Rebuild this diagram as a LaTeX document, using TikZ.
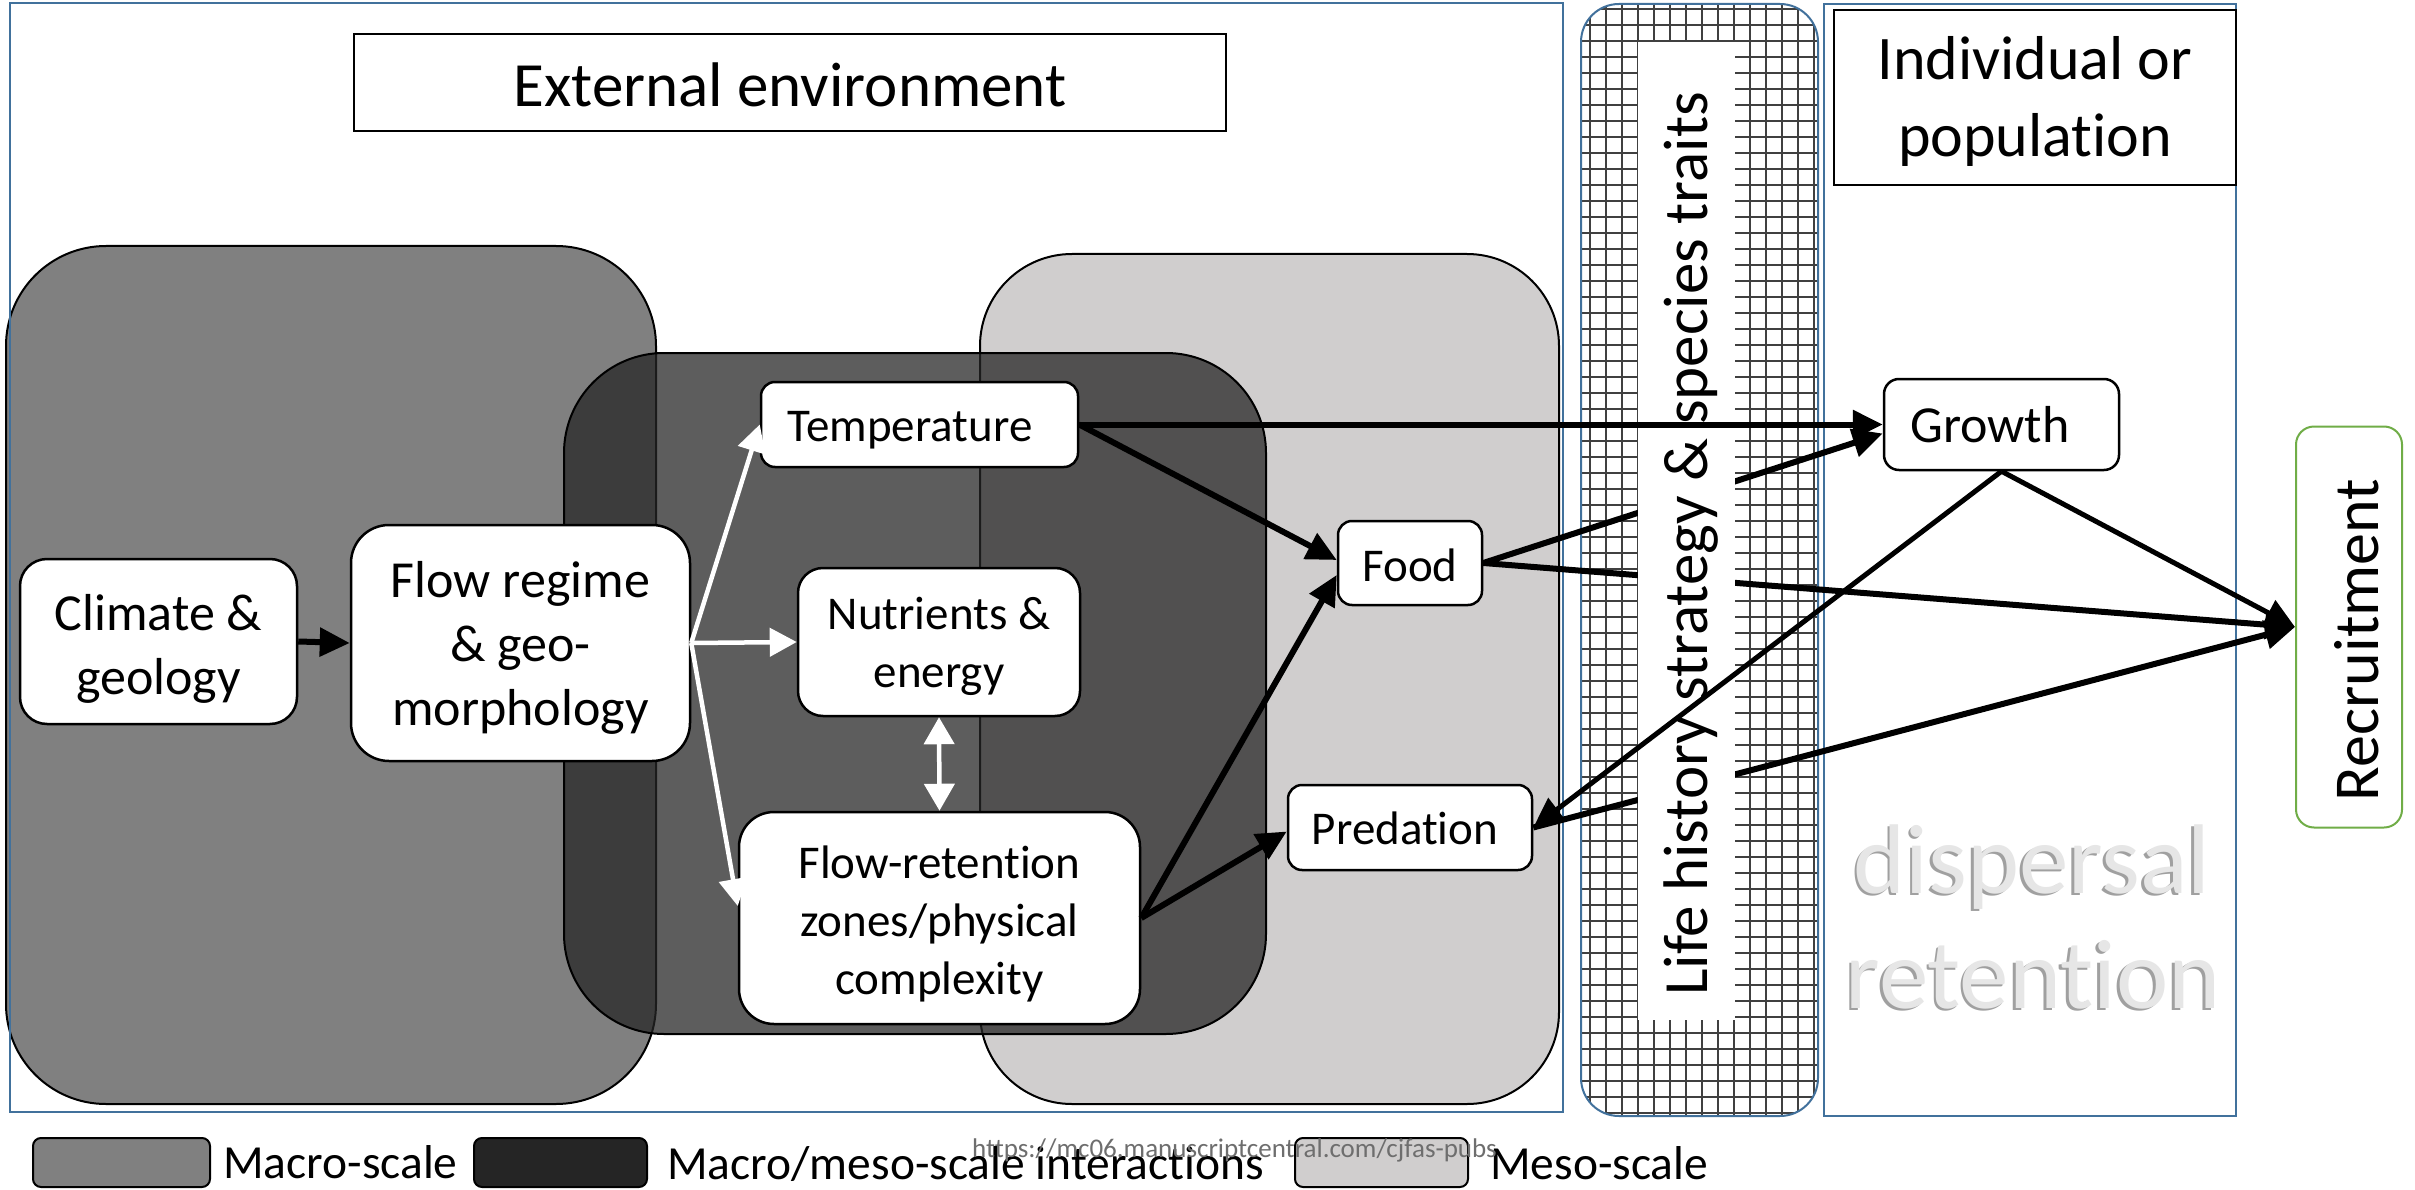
\documentclass[tikz,border=0pt]{standalone}
\usepackage{fontspec}
\setmainfont{Carlito}[Ligatures=NoCommon]
\usetikzlibrary{arrows.meta,calc}
\definecolor{macroc}{RGB}{128,128,128}
\definecolor{mesoc}{RGB}{208,206,206}
\definecolor{mmc}{RGB}{37,37,37}
\definecolor{bordc}{RGB}{65,113,156}
\definecolor{greenc}{RGB}{112,173,71}
\definecolor{gridc}{RGB}{64,64,64}
\definecolor{urlc}{RGB}{110,110,110}
\definecolor{embc}{RGB}{230,230,230}
\definecolor{embs}{RGB}{160,160,160}
\begin{document}
\begin{tikzpicture}[x=1pt,y=-1pt,
  nbox/.style={draw=black, line width=2.5pt, fill=white, inner sep=0pt},
  ntext/.style={align=center, inner sep=0pt},
  fsa/.style={font=\fontsize{47pt}{58pt}\selectfont},
  fsb/.style={font=\fontsize{52pt}{64pt}\selectfont},
  bigbox/.style={draw=black, line width=2pt},
  barr/.style={line width=6pt, -{Triangle[length=30pt,width=28pt]}},
  warr/.style={draw=white, line width=4.5pt, -{Triangle[length=27pt,width=28pt]}},
  wdbl/.style={draw=white, line width=4.5pt, {Triangle[length=27pt,width=30pt]}-{Triangle[length=27pt,width=30pt]}},
  legtext/.style={anchor=base west, inner sep=0pt, font=\fontsize{47.5pt}{57pt}\selectfont},
  swatch/.style={draw=black, line width=2pt, rounded corners=8pt},
  embos/.style={inner sep=0pt, anchor=base, font=\fontsize{99pt}{110pt}\selectfont},
]
\useasboundingbox (0,0) rectangle (2415,1190);
\fill[white] (0,0) rectangle (2415,1190);

% scale regions
\draw[bigbox, fill=macroc, rounded corners=100pt] (6,246) rectangle (656,1104);
\draw[bigbox, fill=mesoc, rounded corners=92pt] (980,254) rectangle (1559,1104);
\draw[bigbox, fill=mmc, fill opacity=0.74, rounded corners=100pt] (564,353) rectangle (1266,1034);

% external environment frame
\draw[bordc, line width=2pt] (10,3) rectangle (1563,1112);
\node[draw=black, line width=1.5pt, fill=white, inner sep=0pt, minimum width=872pt, minimum height=97pt] (ext) at (790,82.5) {};
\node[ntext, font=\fontsize{63pt}{76pt}\selectfont] (extt) at (790,85) {External environment};

% life-history grid box
\begin{scope}
  \clip[rounded corners=38pt] (1581,4) rectangle (1818,1116);
  \fill[white] (1581,4) rectangle (1818,1116);
  \foreach \gx in {1590,1606,...,1830} \draw[gridc, line width=2pt] (\gx,0) -- (\gx,1120);
  \foreach \gy in {9,25,...,1121} \draw[gridc, line width=2pt] (1575,\gy) -- (1825,\gy);
\end{scope}
\draw[bordc, line width=2pt, rounded corners=38pt] (1581,4) rectangle (1818,1116);

% individual frame
\draw[bordc, line width=2pt] (1824,4) rectangle (2236,1116);
\node[draw=black, line width=2pt, fill=white, inner sep=0pt, minimum width=402pt, minimum height=175pt] (ind) at (2035,97.5) {};
\node[ntext, font=\fontsize{62pt}{77pt}\selectfont] (indt) at (2035,101) {Individual or\\population};

% embossed words
\node[embos, text=embs] (ds) at (2029.5,895.5) {dispersal};
\node[embos, text=embc] (dw) at (2032,893) {dispersal};
\node[embos, text=embs] (rs) at (2030.5,1010.5) {retention};
\node[embos, text=embc] (rw) at (2033,1008) {retention};

% nodes
\node[nbox, minimum width=277pt, minimum height=165pt, rounded corners=27pt] (clim) at (158.5,641.5) {};
\node[ntext, fsb] (climt) at (158.5,649) {Climate \&\\geology};
\node[nbox, minimum width=339pt, minimum height=236pt, rounded corners=38pt] (flow) at (520.5,643) {};
\node[ntext, fsb] (flowt) at (520.5,648) {Flow regime\\\& geo-\\morphology};
\node[nbox, minimum width=317pt, minimum height=85pt, rounded corners=14pt] (temp) at (919.5,424.5) {};
\node[ntext, fsa] (tempt) at (910,430) {Temperature};
\node[nbox, minimum width=282pt, minimum height=148pt, rounded corners=25pt] (nutr) at (939,642) {};
\node[ntext, fsa] (nutrt) at (939,646) {Nutrients \&\\energy};
\node[nbox, minimum width=401pt, minimum height=212pt, rounded corners=35pt] (fret) at (939.5,918) {};
\node[ntext, fsa] (frett) at (939.5,924) {Flow-retention\\zones/physical\\complexity};
\node[nbox, minimum width=144pt, minimum height=84pt, rounded corners=14pt] (food) at (1410,563) {};
\node[ntext, fsa] (foodt) at (1410,565) {Food};
\node[nbox, minimum width=244pt, minimum height=85pt, rounded corners=14pt] (pred) at (1410,827.5) {};
\node[ntext, fsa] (predt) at (1405,828) {Predation};
\node[nbox, minimum width=235pt, minimum height=91pt, rounded corners=15pt] (growth) at (2001.5,424.5) {};
\node[ntext, font=\fontsize{52pt}{62pt}\selectfont] (growtht) at (1990,425) {Growth};
\node[draw=greenc, line width=2pt, fill=white, inner sep=0pt, minimum width=106pt, minimum height=401pt, rounded corners=18pt] (rec) at (2349,627) {};
\node[rotate=90, anchor=base, inner sep=0pt, font=\fontsize{64pt}{76pt}\selectfont] (rect) at (2378,640) {Recruitment};

% arrows in the environment
\draw[barr] (clim.east) -- (flow.west);
\draw[warr] (flow.east) -- (temp.west);
\draw[warr] (flow.east) -- (nutr.west);
\draw[warr] (flow.east) -- ($(fret.west)+(0,-12)$);
\draw[wdbl] (nutr.south) -- (fret.north);
\draw[barr] (temp.east) -- ($(food.west)+(0,-3)$);
\draw[barr] (fret.east) -- ($(food.west)+(0,12)$);
\draw[barr] (fret.east) -- ($(pred.west)+(0,4)$);

% arrows hidden behind the text strip
\draw[barr] (food.east) -- ($(growth.west)+(0,9)$);
\draw[barr] (food.east) -- (rec.west);
\draw[barr] (pred.east) -- (rec.west);
\draw[barr, line width=5pt] (growth.south) -- (rec.west);

% text strip
\fill[white] (1638,42) rectangle (1735,1020);
\node[rotate=90, anchor=base, inner sep=0pt, font=\fontsize{63pt}{76pt}\selectfont] (lh) at (1707,544) {Life history strategy \& species traits};

% arrows over the strip
\draw[barr] (temp.east) -- (growth.west);
\draw[barr, line width=5pt] (growth.south) -- (pred.east);

% legend
\draw[swatch, fill=macroc] (33,1138) rectangle (210,1187);
\node[legtext] (l1) at (223,1178) {Macro-scale};
\draw[swatch, fill=mmc] (474,1138) rectangle (647,1187);
\node[legtext] (l2) at (667,1179) {Macro/meso-scale interactions};
\draw[swatch, fill=mesoc] (1295,1138) rectangle (1468,1187);
\node[legtext] (l3) at (1490,1179) {Meso-scale};
\node[anchor=base west, inner sep=0pt, text=urlc, font=\fontsize{27pt}{32pt}\selectfont] (url) at (972,1157) {https://mc06.manuscriptcentral.com/cjfas-pubs};
\end{tikzpicture}
\end{document}
